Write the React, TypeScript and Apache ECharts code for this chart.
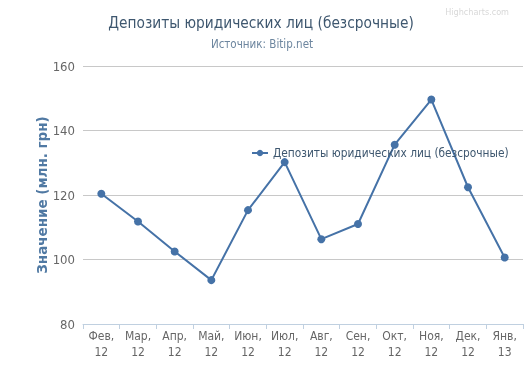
import React, { useEffect, useRef } from "react";
import * as echarts from "echarts";

const categories = ["Фев,\n12", "Мар,\n12", "Апр,\n12", "Май,\n12", "Июн,\n12", "Июл,\n12", "Авг,\n12", "Сен,\n12", "Окт,\n12", "Ноя,\n12", "Дек,\n12", "Янв,\n13"];
const seriesName = "Депозиты юридических лиц (безсрочные)";
const values = [120.4, 111.8, 102.5, 93.6, 115.3, 130.2, 106.3, 111.0, 135.6, 149.6, 122.4, 100.6];
const yTicks = { min: 80, max: 160, interval: 20 };

const FONT = "'DejaVu Sans Condensed', 'Liberation Sans Narrow', sans-serif";

export default function App() {
  const ref = useRef<HTMLDivElement>(null);
  useEffect(() => {
    const chart = echarts.init(ref.current!, undefined, { renderer: "svg" });
    chart.setOption({
      animation: false,
      textStyle: { fontFamily: FONT },
      title: [
        {
          text: seriesName,
          left: 256,
          textAlign: "center",
          top: 10,
          textStyle: { fontFamily: FONT, fontSize: 15.3, fontWeight: "normal", color: "#3e576f" },
        },
        {
          text: "Источник: Bitip.net",
          left: 257,
          textAlign: "center",
          top: 33,
          textStyle: { fontFamily: FONT, fontSize: 11.5, fontWeight: "normal", color: "#6d869f" },
        },
        {
          text: "Highcharts.com",
          right: 15,
          top: 2,
          textStyle: { fontFamily: FONT, fontSize: 9, fontWeight: "normal", color: "#d8d8d8" },
        },
      ],
      legend: {
        data: [seriesName],
        left: 246,
        top: 142,
        orient: "vertical",
        itemWidth: 16,
        itemHeight: 8,
        itemGap: 4,
        textStyle: { fontFamily: FONT, fontSize: 11.8, color: "#3e576f" },
      },
      grid: { left: 83, right: 6, top: 66, bottom: 56 },
      xAxis: {
        type: "category",
        data: categories,
        boundaryGap: true,
        axisLine: { lineStyle: { color: "#c0d0e0", width: 1 } },
        axisTick: { show: true, length: 5, interval: 0, lineStyle: { color: "#c0d0e0" } },
        axisLabel: { color: "#666666", fontSize: 12, fontFamily: FONT, lineHeight: 16, margin: 4, interval: 0 },
      },
      yAxis: {
        type: "value",
        min: yTicks.min,
        max: yTicks.max,
        interval: yTicks.interval,
        name: "Значение (млн. грн)",
        nameLocation: "middle",
        nameGap: 34,
        nameMoveOverlap: false,
        nameTextStyle: { color: "#5079a3", fontSize: 13.5, fontWeight: "bold", fontFamily: "'DejaVu Sans', sans-serif" },
        axisLine: { show: false },
        axisTick: { show: false },
        axisLabel: { color: "#666666", fontSize: 13, fontFamily: FONT, margin: 8 },
        splitLine: { lineStyle: { color: "#c8c8c8", width: 1 } },
      },
      series: [
        {
          name: seriesName,
          type: "line",
          data: values,
          symbol: "circle",
          symbolSize: 8,
          lineStyle: { color: "#4572a7", width: 2 },
          itemStyle: { color: "#4572a7" },
        },
      ],
    });
    return () => chart.dispose();
  }, []);
  return <div ref={ref} style={{ position: "fixed", left: 0, top: 0, width: 529, height: 380 }} />;
}
